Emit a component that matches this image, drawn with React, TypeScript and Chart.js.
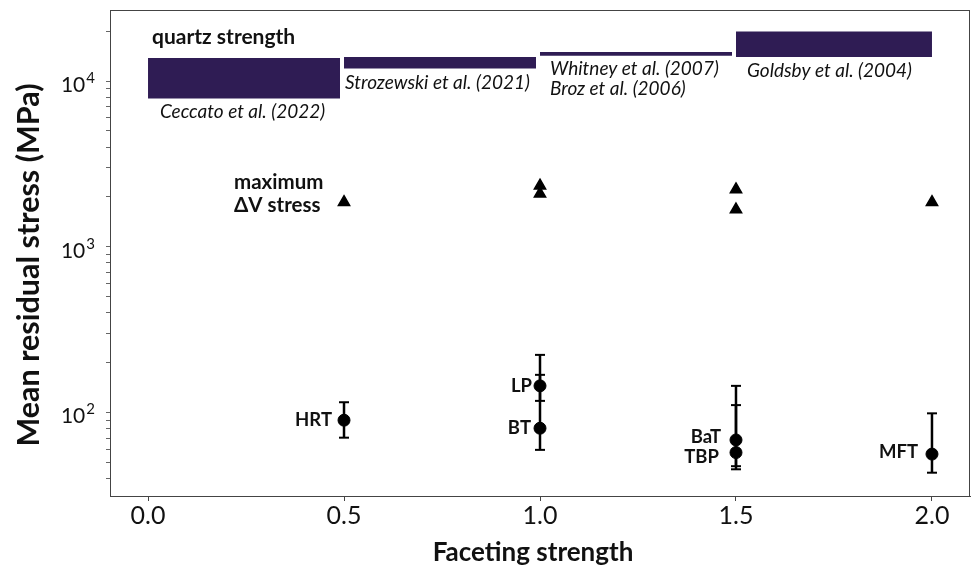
import React, { useEffect, useRef } from 'react';
import { Chart, registerables } from 'chart.js';

Chart.register(...registerables);

// ---- data ----
const xTickValues = [0, 0.5, 1.0, 1.5, 2.0];
const xTickLabels = ['0.0', '0.5', '1.0', '1.5', '2.0'];
const yMajorExponents = [2, 3, 4];
const yMinorTicks = [40, 50, 60, 70, 80, 90, 100, 200, 300, 400, 500, 600, 700, 800, 900, 1000, 2000, 3000, 4000, 5000, 6000, 7000, 8000, 9000, 10000, 20000];
const xTitle = 'Faceting strength';
const yTitle = 'Mean residual stress (MPa)';

// quartz strength ranges
const barNames = ['Ceccato et al. (2022)', 'Strozewski et al. (2021)', 'Whitney et al. (2007)\nBroz et al. (2006)', 'Goldsby et al. (2004)'];
const barStart = [0, 0.5, 1.0, 1.5];
const barEnd = [0.49, 0.99, 1.49, 2.0];
const barLow = [7850, 11900, 14200, 14000];
const barHigh = [13800, 14000, 15000, 19900];

// maximum ΔV stress
const triX = [0.5, 1.0, 1.0, 1.5, 1.5, 2.0];
const triY = [1860, 2340, 2090, 2220, 1680, 1860];

// mean residual stress
const ptNames = ['HRT', 'LP', 'BT', 'BaT', 'TBP', 'MFT'];
const ptX = [0.5, 1.0, 1.0, 1.5, 1.5, 2.0];
const ptY = [90, 145, 80.5, 68.4, 57.4, 56.2];
const ptLow = [70.6, 117.7, 59.6, 47.5, 45.5, 43.4];
const ptHigh = [115.5, 223, 169, 145, 111, 99];

// ---- layout / style (pixel offsets for text) ----
const FONT = 'Lato, "Noto Sans", sans-serif';
const BAR = '#2f1c54';
const citeDx = [12, 1, 10, 11];
const citeDy = [13, 14, 13, 14];
const ptLabelDx = [-12, -8, -9, -15, -17, -14];
const ptLabelDy = [0, 0, 0, -3, 4, -2];

const boxPlugin = {
  id: 'box',
  afterDraw(chart: any) {
    const { ctx, chartArea: a } = chart;
    ctx.save();
    ctx.strokeStyle = '#444';
    ctx.lineWidth = 1;
    ctx.strokeRect(a.left + 0.5, a.top + 0.5, a.right - a.left - 1, a.bottom - a.top);
    ctx.restore();
  },
};

const textPlugin = {
  id: 'texts',
  afterDatasetsDraw(chart: any) {
    const { ctx, chartArea } = chart;
    const x = chart.scales.x;
    const y = chart.scales.y;
    ctx.save();
    ctx.fillStyle = '#111';
    ctx.textBaseline = 'middle';

    // axis titles
    ctx.textAlign = 'center';
    ctx.font = `bold 26px ${FONT}`;
    ctx.fillText(xTitle, (chartArea.left + chartArea.right) / 2 - 7, chartArea.bottom + 57);
    ctx.save();
    ctx.translate(29, (chartArea.top + chartArea.bottom) / 2 + 12);
    ctx.rotate(-Math.PI / 2);
    ctx.font = `bold 30.5px ${FONT}`;
    ctx.fillText(yTitle, 0, 0);
    ctx.restore();

    // y tick labels 10^n
    yMajorExponents.forEach((e) => {
      const py = y.getPixelForValue(Math.pow(10, e));
      ctx.font = `15px ${FONT}`;
      const ew = ctx.measureText(String(e)).width;
      ctx.textAlign = 'right';
      const right = chartArea.left - 15;
      ctx.fillText(String(e), right, py - 3);
      ctx.font = `21px ${FONT}`;
      ctx.fillText('10', right - ew - 1, py + 4);
    });

    // quartz strength title
    ctx.textAlign = 'left';
    ctx.font = `bold 21px ${FONT}`;
    ctx.fillText('quartz strength', x.getPixelForValue(barStart[0]) + 4, y.getPixelForValue(barHigh[0]) - 21);

    // citations
    ctx.font = `italic 19px ${FONT}`;
    barNames.forEach((name, i) => {
      const px = x.getPixelForValue(barStart[i]) + citeDx[i];
      const py = y.getPixelForValue(barLow[i]) + citeDy[i];
      name.split('\n').forEach((line, k) => ctx.fillText(line, px, py + k * 20));
    });

    // maximum ΔV stress
    ctx.font = `bold 20.5px ${FONT}`;
    const tx = x.getPixelForValue(triX[0]) - 110;
    const ty = y.getPixelForValue(triY[0]);
    ctx.fillText('maximum', tx, ty - 20);
    ctx.fillText('\u0394V stress', tx, ty + 3);

    // point labels
    ctx.textAlign = 'right';
    ctx.font = `bold 18.5px ${FONT}`;
    ptNames.forEach((n, i) => {
      ctx.fillText(n, x.getPixelForValue(ptX[i]) + ptLabelDx[i], y.getPixelForValue(ptY[i]) + ptLabelDy[i]);
    });
    ctx.restore();
  },
};

export default function App() {
  const ref = useRef<HTMLCanvasElement | null>(null);
  useEffect(() => {
    document.body.style.margin = '0';
    const datasets: any[] = [];
    barStart.forEach((x0, i) => {
      datasets.push({
        type: 'line',
        data: [{ x: x0, y: barLow[i] }, { x: barEnd[i], y: barLow[i] }],
        borderColor: 'transparent', borderWidth: 0, pointRadius: 0, fill: false,
      });
      datasets.push({
        type: 'line',
        data: [{ x: x0, y: barHigh[i] }, { x: barEnd[i], y: barHigh[i] }],
        borderColor: 'transparent', borderWidth: 0, pointRadius: 0,
        fill: '-1', backgroundColor: BAR,
      });
    });
    ptX.forEach((px, i) => {
      datasets.push({
        type: 'line',
        data: [{ x: px, y: ptLow[i] }, { x: px, y: ptHigh[i] }],
        borderColor: '#000', borderWidth: 2.5, fill: false,
        pointStyle: 'line', pointRadius: 5, pointBorderWidth: 2, pointBorderColor: '#000',
      });
    });
    datasets.push({
      type: 'scatter',
      data: ptX.map((px, i) => ({ x: px, y: ptY[i] })),
      pointStyle: 'circle', pointRadius: 6, backgroundColor: '#000', borderColor: '#000',
    });
    datasets.push({
      type: 'scatter',
      data: triX.map((px, i) => ({ x: px, y: triY[i] })),
      pointStyle: 'triangle', pointRadius: 6.5, backgroundColor: '#000', borderColor: '#000', borderWidth: 1.5,
    });

    const chart = new Chart(ref.current!, {
      type: 'scatter',
      data: { datasets },
      options: {
        animation: false,
        responsive: false,
        events: [],
        layout: { autoPadding: false, padding: { top: 10, right: 1, left: 0, bottom: 0 } },
        plugins: { legend: { display: false }, tooltip: { enabled: false }, title: { display: false } },
        scales: {
          x: {
            type: 'linear',
            min: -0.097,
            max: 2.097,
            afterBuildTicks: (s: any) => { s.ticks = xTickValues.map((v) => ({ value: v })); },
            afterFit: (s: any) => { s.height = 74; s.paddingLeft = 0; s.paddingRight = 0; },
            ticks: {
              callback: (v: any) => xTickLabels[xTickValues.indexOf(Number(v))] ?? '',
              font: { family: FONT, size: 25 }, color: '#111', padding: 0, maxRotation: 0,
            },
            grid: { drawOnChartArea: false, drawTicks: true, tickLength: 5, color: '#444' },
            border: { display: true, color: '#444', width: 1 },
          },
          y: {
            type: 'logarithmic',
            min: 31.4,
            max: 26850,
            afterBuildTicks: (s: any) => { s.ticks = yMinorTicks.map((v) => ({ value: v })); },
            afterFit: (s: any) => { s.width = 110; s.paddingTop = 0; s.paddingBottom = 0; },
            ticks: { callback: () => '', font: { family: FONT, size: 12 } },
            grid: { drawOnChartArea: false, drawTicks: true, tickLength: 4, color: '#666' },
            border: { display: true, color: '#444', width: 1 },
          },
        },
      } as any,
      plugins: [textPlugin, boxPlugin],
    });
    return () => chart.destroy();
  }, []);
  return (
    <div style={{ width: 971, height: 570 }}>
      <canvas ref={ref} width={971} height={570} style={{ width: 971, height: 570, display: 'block' }} />
    </div>
  );
}
